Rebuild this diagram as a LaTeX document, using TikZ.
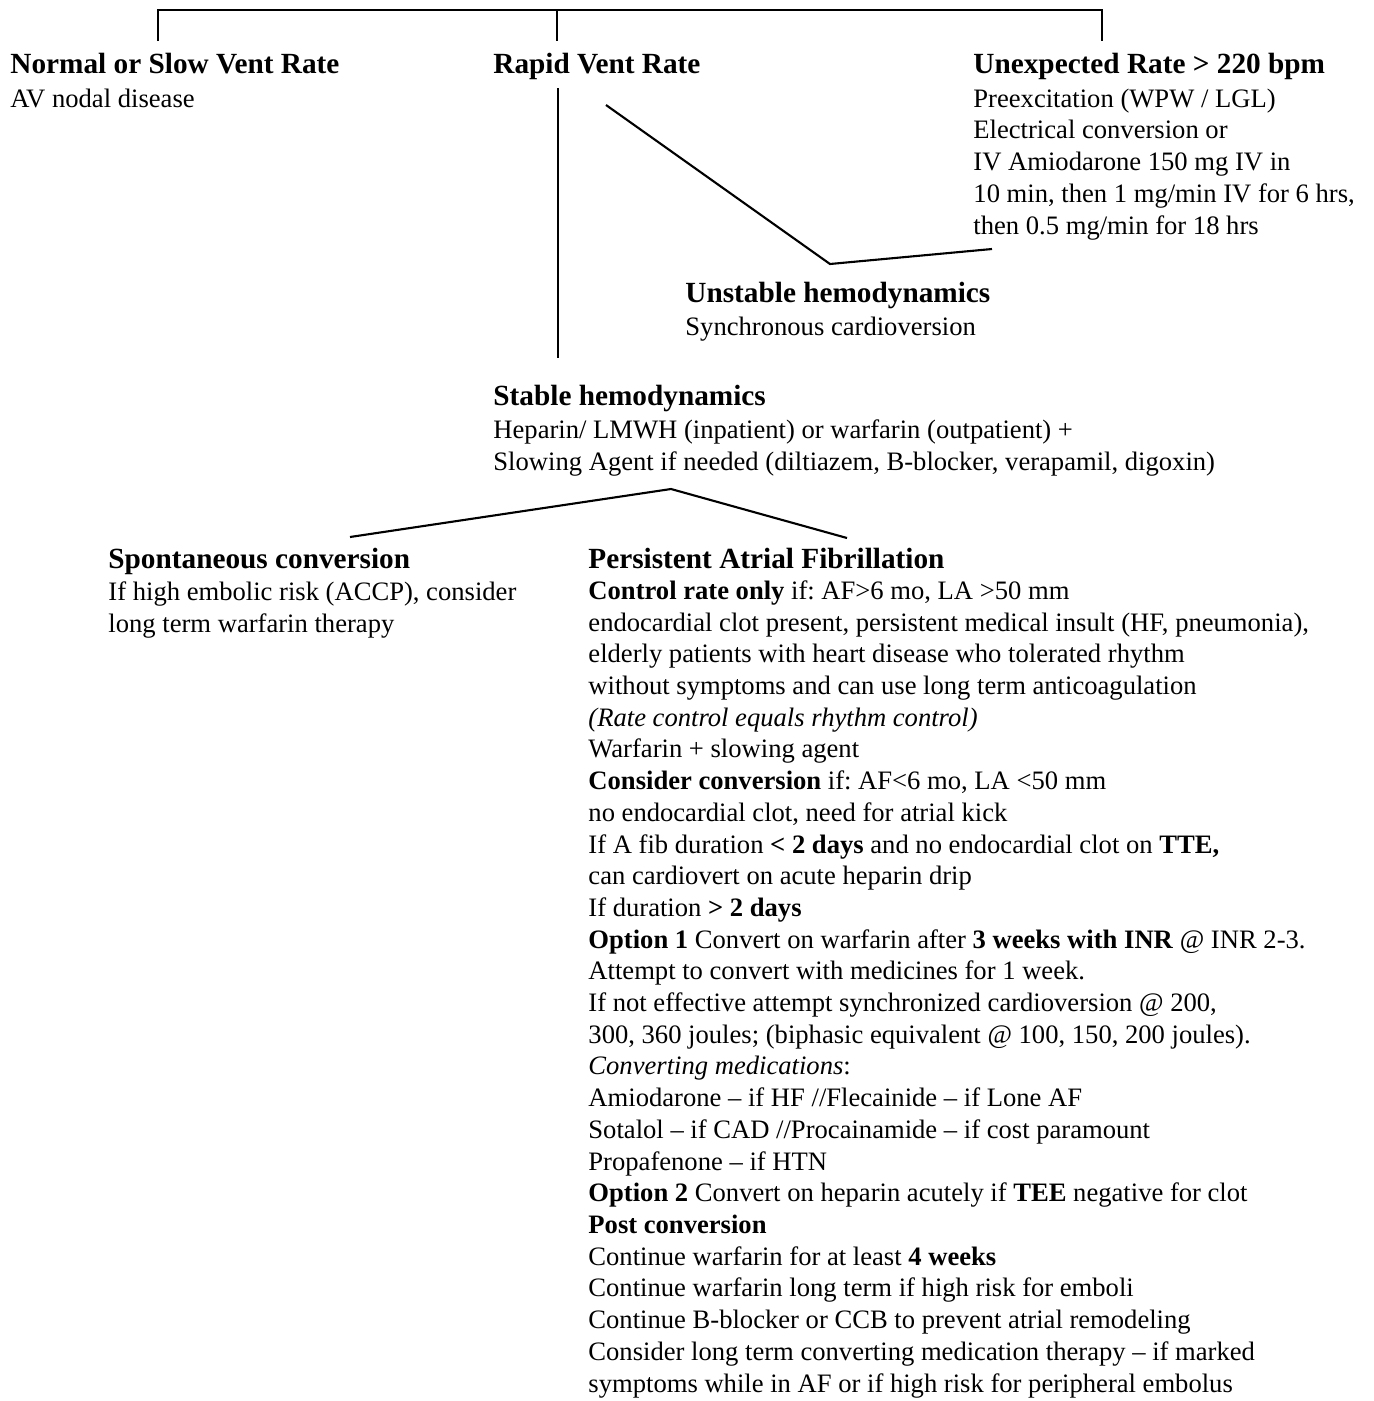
\documentclass[tikz,border=0pt]{standalone}
\usepackage{fontspec}
\setmainfont{Liberation Serif}
\frenchspacing

\tikzset{
  head/.style={anchor=base west, inner sep=0pt, font=\fontsize{13.2}{15.8}\selectfont\bfseries},
  body/.style={anchor=base west, inner sep=0pt, align=left, font=\fontsize{12}{14.3}\selectfont},
  link/.style={line width=0.95pt},
}

\begin{document}
\begin{tikzpicture}[x=0.451pt, y=-0.451pt]
\useasboundingbox (0,0) rectangle (1374,1401);

\node[head] (normal) at (10,73) {Normal or Slow Vent Rate};
\node[body] (normaltxt) at (10,107) {AV nodal disease};

\node[head] (rapid) at (493,73) {Rapid Vent Rate};

\node[head] (unexp) at (973,73) {Unexpected Rate > 220 bpm};
\node[body] (unexptxt) at (973,234) {Preexcitation (WPW / LGL)\\
Electrical conversion or\\
IV Amiodarone 150 mg IV in\\
10 min, then 1 mg/min IV for 6 hrs,\\
then 0.5 mg/min for 18 hrs};

\node[head] (unstable) at (685,302) {Unstable hemodynamics};
\node[body] (unstabletxt) at (685,335) {Synchronous cardioversion};

\node[head] (stable) at (493,405) {Stable hemodynamics};
\node[body] (stabletxt) at (493,470) {Heparin/ LMWH (inpatient) or warfarin (outpatient) +\\
Slowing Agent if needed (diltiazem, B-blocker, verapamil, digoxin)};

\node[head] (spont) at (108,568) {Spontaneous conversion};
\node[body] (sponttxt) at (108,632) {If high embolic risk (ACCP), consider\\
long term warfarin therapy};

\node[head] (persist) at (588,568) {Persistent Atrial Fibrillation};
\node[body] (persisttxt) at (588,1392) {\textbf{Control rate only} if: AF>6 mo, LA >50 mm\\
endocardial clot present, persistent medical insult (HF, pneumonia),\\
elderly patients with heart disease who tolerated rhythm\\
without symptoms and can use long term anticoagulation\\
\textit{(Rate control equals rhythm control)}\\
Warfarin + slowing agent\\
\textbf{Consider conversion} if: AF<6 mo, LA <50 mm\\
no endocardial clot, need for atrial kick\\
If A fib duration \textbf{< 2 days} and no endocardial clot on \textbf{TTE,}\\
can cardiovert on acute heparin drip\\
If duration \textbf{> 2 days}\\
\textbf{Option 1} Convert on warfarin after \textbf{3 weeks with INR} @ INR 2-3.\\
Attempt to convert with medicines for 1 week.\\
If not effective attempt synchronized cardioversion @ 200,\\
300, 360 joules; (biphasic equivalent @ 100, 150, 200 joules).\\
\textit{Converting medications}:\\
Amiodarone – if HF //Flecainide – if Lone AF\\
Sotalol – if CAD //Procainamide – if cost paramount\\
Propafenone – if HTN\\
\textbf{Option 2} Convert on heparin acutely if \textbf{TEE} negative for clot\\
\textbf{Post conversion}\\
Continue warfarin for at least \textbf{4 weeks}\\
Continue warfarin long term if high risk for emboli\\
Continue B-blocker or CCB to prevent atrial remodeling\\
Consider long term converting medication therapy – if marked\\
symptoms while in AF or if high risk for peripheral embolus};

\coordinate (topl) at (158,10);
\coordinate (topm) at (557,10);
\coordinate (topr) at (1102,10);
\coordinate (normalin) at (158,41);
\coordinate (rapidin) at (557,41);
\coordinate (unexpin) at (1102,41);
\draw[link] (normalin) -- (topl) -- (topr) -- (unexpin);
\draw[link] (topm) -- (rapidin);

\coordinate (rapidout) at (558,88);
\coordinate (stablein) at (558,358);
\draw[link] (rapidout) -- (stablein);

\coordinate (rapidout2) at (606,105);
\coordinate (unstablein) at (830,264);
\coordinate (unexpout) at (992,249);
\draw[link] (rapidout2) -- (unstablein) -- (unexpout);

\coordinate (spontin) at (350,537);
\coordinate (stableout) at (671,489);
\coordinate (persistin) at (847,538);
\draw[link] (spontin) -- (stableout) -- (persistin);

\end{tikzpicture}
\end{document}
